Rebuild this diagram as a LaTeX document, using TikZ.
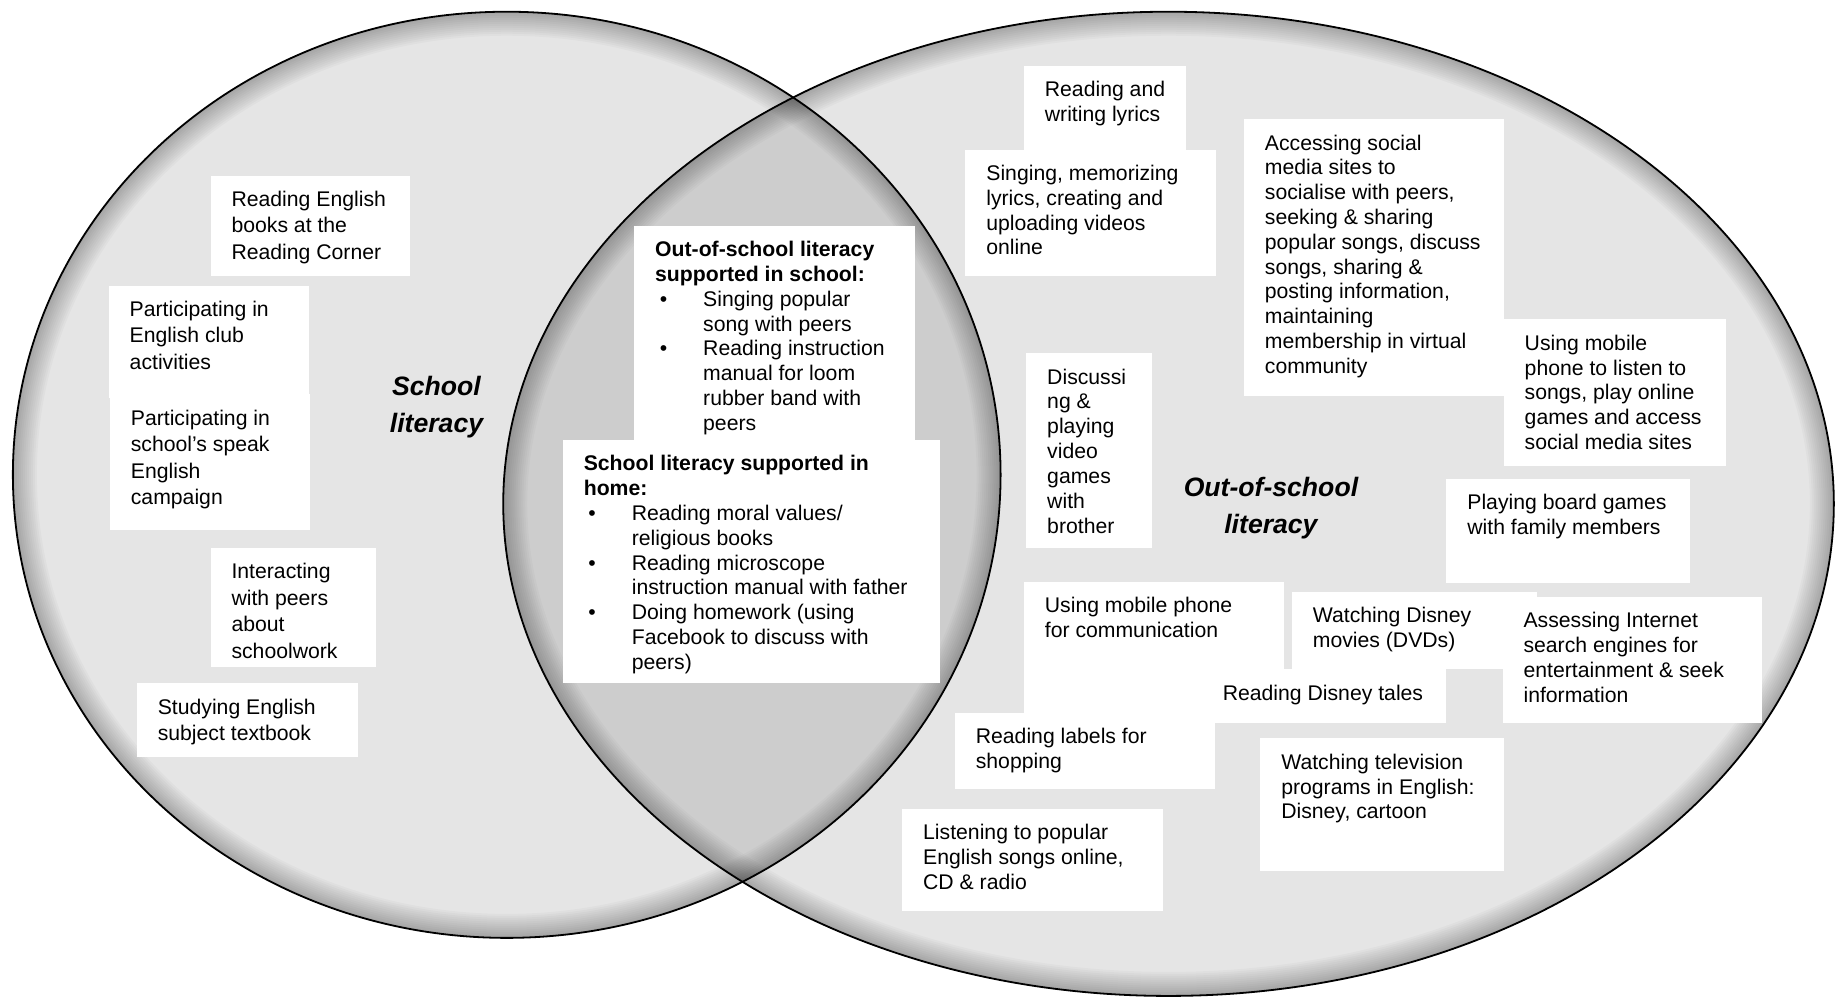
\documentclass[tikz,border=0pt]{standalone}
\usepackage{fontspec}
\setmainfont{Liberation Sans}
\usetikzlibrary{calc}
\tikzset{
  boxtext/.style={anchor=north west,inner sep=0pt,align=left,
    font=\fontsize{10.6}{12.4}\selectfont},
  loose/.style={font=\fontsize{10.6}{13.3}\selectfont},
  venntitle/.style={align=center,inner sep=0pt,
    font=\fontsize{13.3}{18.7}\selectfont\bfseries\itshape}
}
% white box: [style] name, left, top, right, bottom, text
\newcommand\litbox[7][]{%
  \fill[white] (#3,#4) rectangle (#5,#6);
  \node[boxtext,#1] (#2) at (#3+17.5,#4+12.8) {#7};
}
\newcommand\vbul{\makebox[24pt][l]{\hspace{2.3pt}\textbullet}}
\newcommand\vind{\hspace*{24pt}}
% one set of the venn: centre, x radius, y radius
\newcommand\vennset[3]{%
  \fill[black,fill opacity=0.1] (#1) ellipse [x radius=#2,y radius=#3];
  \begin{scope}
    \clip (#1) ellipse [x radius=#2,y radius=#3];
    \foreach \w in {2,4,...,24}
      \draw[line width=\w pt,draw opacity=0.022] (#1) ellipse [x radius=#2,y radius=#3];
  \end{scope}
}
\begin{document}
\begin{tikzpicture}[x=0.585pt,y=-0.585pt]
  \useasboundingbox (0,0) rectangle (1568,853);
  \fill[white] (0,0) rectangle (1568,853);

  % The two sets
  \coordinate (school) at (433,405.7);
  \coordinate (outside) at (998.5,430.5);
  \vennset{school}{422}{395.7}
  \vennset{outside}{568.5}{420.5}
  \draw[line width=0.9pt] (school) ellipse [x radius=422,y radius=395.7];
  \draw[line width=0.9pt] (outside) ellipse [x radius=568.5,y radius=420.5];

  % School literacy
  \litbox[loose]{readcorner}{180}{150}{350}{236}{Reading English\\books at the\\Reading Corner};
  \litbox[loose]{engclub}{93}{244}{264}{340}{Participating in\\English club\\activities};
  \litbox[loose]{speakeng}{94}{337}{265}{453}{Participating in\\school’s speak\\English\\campaign};
  \litbox[loose]{interact}{180}{468}{321}{570}{Interacting\\with peers\\about\\schoolwork};
  \litbox[loose]{textbook}{117}{584}{306}{647}{Studying English\\subject textbook};
  \node[venntitle] (schooltitle) at (373,348) {School\\literacy};

  % Overlap
  \litbox{inschool}{542}{193}{782}{378}{%
    \textbf{Out-of-school literacy}\\
    \textbf{supported in school:}\\
    \vbul Singing popular\\
    \vind song with peers\\
    \vbul Reading instruction\\
    \vind manual for loom\\
    \vind rubber band with\\
    \vind peers};
  \litbox{inhome}{481}{376}{803}{584}{%
    \textbf{School literacy supported in}\\
    \textbf{home:}\\
    \vbul Reading moral values/\\
    \vind religious books\\
    \vbul Reading microscope\\
    \vind instruction manual with father\\
    \vbul Doing homework (using\\
    \vind Facebook to discuss with\\
    \vind peers)};

  % Out-of-school literacy
  \litbox{lyrics}{875}{56}{1013}{128}{Reading and\\writing lyrics};
  \litbox{singing}{825}{128}{1039}{236}{Singing, memorizing\\lyrics, creating and\\uploading videos\\online};
  \litbox{socialmedia}{1063}{102}{1285}{338}{Accessing social\\media sites to\\socialise with peers,\\seeking \& sharing\\popular songs, discuss\\songs, sharing \&\\posting information,\\maintaining\\membership in virtual\\community};
  \litbox{mobilesongs}{1285}{273}{1475}{398}{Using mobile\\phone to listen to\\songs, play online\\games and access\\social media sites};
  \litbox{videogames}{877}{302}{984}{468}{Discussi\\ng \&\\playing\\video\\games\\with\\brother};
  \litbox{boardgames}{1236}{409}{1444}{498}{Playing board games\\with family members};
  \litbox{mobilecomm}{875}{497}{1097}{609}{Using mobile phone\\for communication};
  \litbox{disneymovies}{1104}{506}{1313}{572}{Watching Disney\\movies (DVDs)};
  \litbox{disneytales}{1027}{572}{1236}{618}{Reading Disney tales};
  \litbox{internet}{1284}{510}{1506}{618}{Assessing Internet\\search engines for\\entertainment \& seek\\information};
  \litbox{labels}{816}{609}{1038}{674}{Reading labels for\\shopping};
  \litbox{television}{1077}{631}{1285}{744}{Watching television\\programs in English:\\Disney, cartoon};
  \litbox{popsongs}{771}{691}{994}{778}{Listening to popular\\English songs online,\\CD \& radio};
  \node[venntitle] (outtitle) at (1086,434) {Out-of-school\\literacy};
\end{tikzpicture}
\end{document}
